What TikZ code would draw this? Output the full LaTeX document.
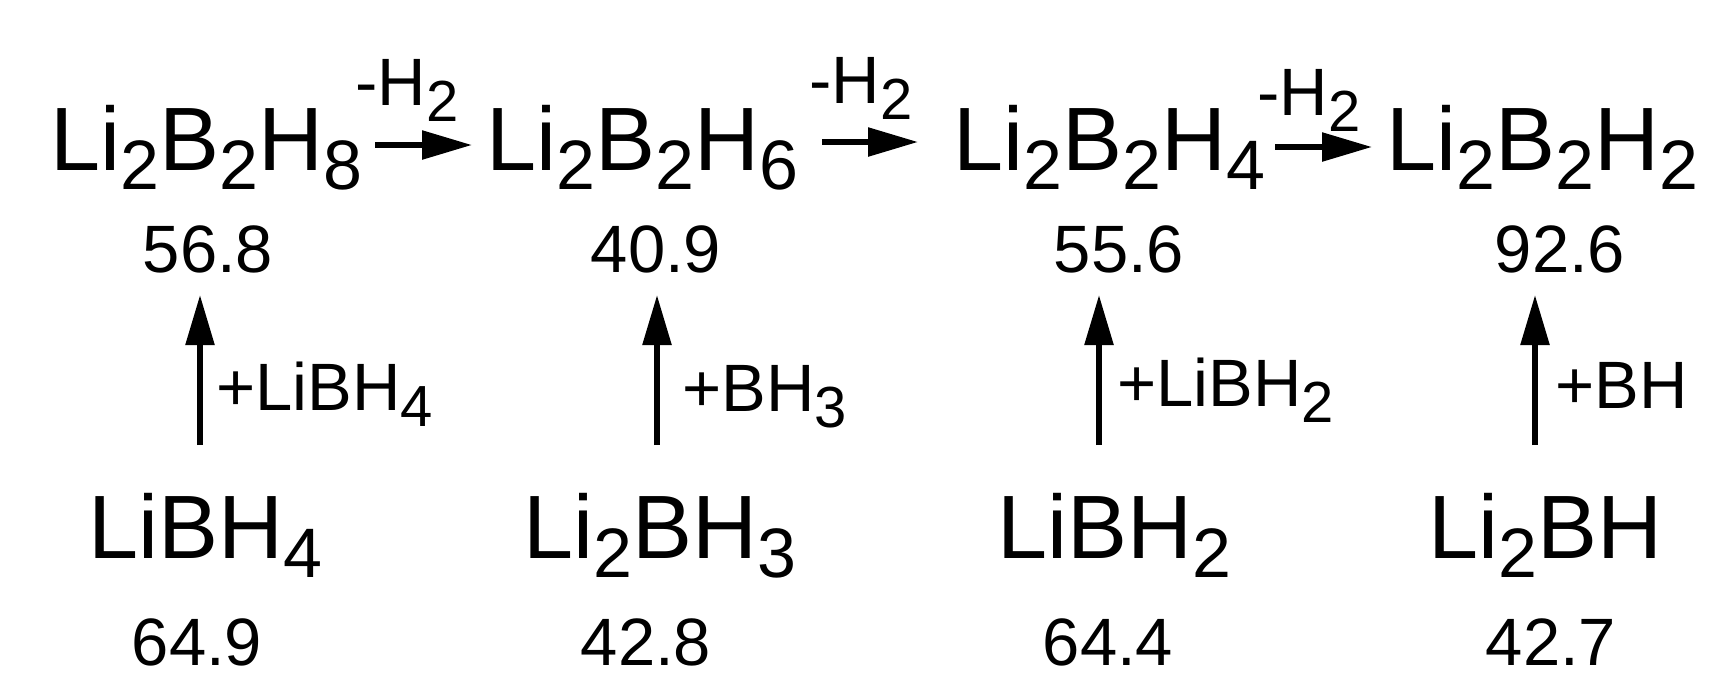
\documentclass[tikz,border=0pt]{standalone}
\usepackage{fontspec}
\setmainfont{Liberation Sans}
\usetikzlibrary{arrows.meta}
\newcommand\bigf{\fontsize{45}{45}\selectfont}
\newcommand\medf{\fontsize{33.5}{33.5}\selectfont}
\newcommand\sbig[1]{\raisebox{-9.5pt}{\fontsize{35}{35}\selectfont #1}}
\newcommand\ssm[1]{\raisebox{-8pt}{\fontsize{29}{29}\selectfont #1}}
\begin{document}
\begin{tikzpicture}[x={(0.5pt,0)},y={(0,-0.5pt)},
  formula/.style={anchor=base west,inner sep=0pt,font=\bigf},
  numlbl/.style={anchor=base,inner sep=0pt,font=\medf},
  rxlbl/.style={anchor=base west,inner sep=0pt,font=\medf},
  rxarrow/.style={line width=2.8pt,-{Triangle[length=25pt,width=14pt]}}]
\useasboundingbox (0,0) rectangle (1724,698);
% top formulas
\node[formula] (f1) at (50,170) {Li\sbig{2}B\sbig{2}H\sbig{8}};
\node[formula] (f2) at (486,170) {Li\sbig{2}B\sbig{2}H\sbig{6}};
\node[formula] (f3) at (953,170) {Li\sbig{2}B\sbig{2}H\sbig{4}};
\node[formula] (f4) at (1386,170) {Li\sbig{2}B\sbig{2}H\sbig{2}};
% top numbers
\node[numlbl] (n1) at (208,272) {56.8};
\node[numlbl] (n2) at (656,272) {40.9};
\node[numlbl] (n3) at (1119,272) {55.6};
\node[numlbl] (n4) at (1560,272) {92.6};
% bottom formulas
\node[formula] (b1) at (88,558) {LiBH\sbig{4}};
\node[formula] (b2) at (523,558) {Li\sbig{2}BH\sbig{3}};
\node[formula] (b3) at (997,558) {LiBH\sbig{2}};
\node[formula] (b4) at (1428,558) {Li\sbig{2}BH};
% bottom numbers
\node[numlbl] (m1) at (197,665) {64.9};
\node[numlbl] (m2) at (646,665) {42.8};
\node[numlbl] (m3) at (1108,665) {64.4};
\node[numlbl] (m4) at (1551,665) {42.7};
% -H2 labels
\node[rxlbl] (h1) at (355,105) {-H\ssm{2}};
\node[rxlbl] (h2) at (809,103) {-H\ssm{2}};
\node[rxlbl] (h3) at (1257,115) {-H\ssm{2}};
% vertical labels
\node[rxlbl] (p1) at (216,410) {+LiBH\ssm{4}};
\node[rxlbl] (p2) at (682,411) {+BH\ssm{3}};
\node[rxlbl] (p3) at (1117,406) {+LiBH\ssm{2}};
\node[rxlbl] (p4) at (1555,408) {+BH};
% arrow end points
\coordinate (ha1) at (375,145); \coordinate (hb1) at (472,145);
\coordinate (ha2) at (822,142); \coordinate (hb2) at (918,142);
\coordinate (ha3) at (1275,147); \coordinate (hb3) at (1372,147);
\coordinate (va1) at (200,445); \coordinate (vb1) at (200,295);
\coordinate (va2) at (657,445); \coordinate (vb2) at (657,295);
\coordinate (va3) at (1099,445); \coordinate (vb3) at (1099,295);
\coordinate (va4) at (1535,445); \coordinate (vb4) at (1535,295);
\draw[rxarrow] (ha1) -- (hb1);
\draw[rxarrow] (ha2) -- (hb2);
\draw[rxarrow] (ha3) -- (hb3);
\draw[rxarrow] (va1) -- (vb1);
\draw[rxarrow] (va2) -- (vb2);
\draw[rxarrow] (va3) -- (vb3);
\draw[rxarrow] (va4) -- (vb4);
\end{tikzpicture}
\end{document}
